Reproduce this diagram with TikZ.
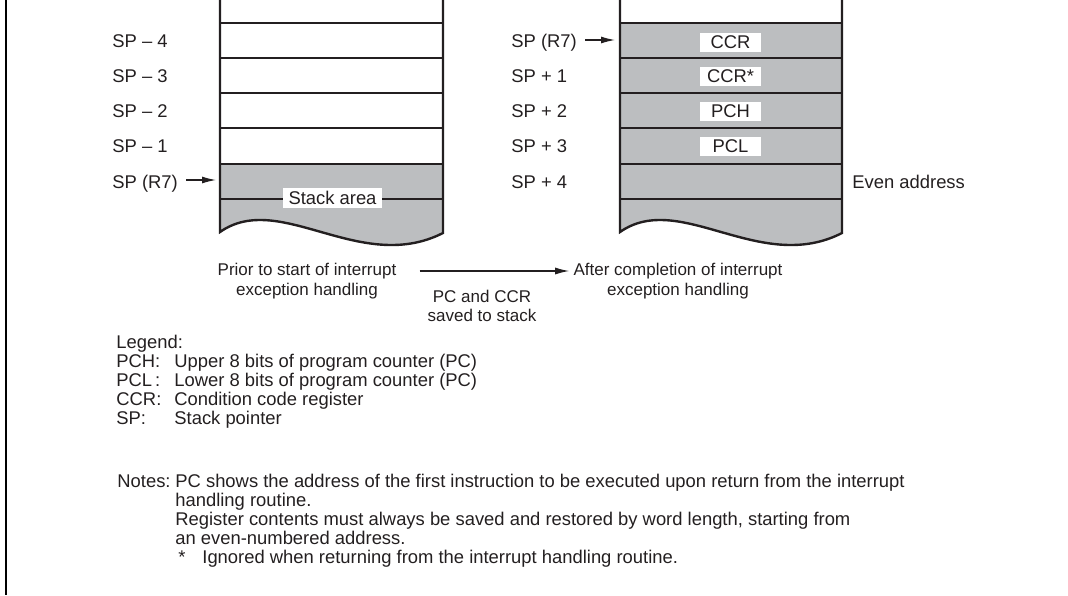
\documentclass[tikz,border=0pt]{standalone}
\usepackage{fontspec}
\setmainfont{Liberation Sans}
\usepackage{tikz}
\usetikzlibrary{arrows.meta, positioning}
\definecolor{stkgray}{RGB}{188,190,192}
\definecolor{inkdark}{RGB}{35,31,32}
\tikzset{
  lbl/.style={anchor=base west, inner sep=0pt, text=inkdark,
    font=\fontsize{9.2}{11}\selectfont},
  captext/.style={align=center, inner sep=0pt, text=inkdark,
    font=\fontsize{8.5}{9.8}\selectfont},
  cellbox/.style={fill=white, minimum width=30.5pt, minimum height=9.5pt,
    inner sep=0pt, text=inkdark, font=\fontsize{9.2}{11}\selectfont},
  ptr/.style={-{Latex[length=7pt,width=3.5pt]}, line width=0.6pt, color=inkdark},
  rowline/.style={line width=0.8pt, color=inkdark},
  stackedge/.style={line width=1.2pt, color=inkdark}
}

\begin{document}
\begin{tikzpicture}[x=0.5pt, y=-0.5pt]
  \useasboundingbox (0,0) rectangle (1068,595);

  % Frame
  \draw[line width=1.3pt, color=black] (6,0) -- (6,595);

  % Stack before
  \fill[white] (220,0) rectangle (443,164);
  \fill[stkgray] (220,164) -- (443,164) -- (443,233)
    .. controls (360,275) and (280,190) .. (220,232) -- cycle;
  \draw[rowline] (220,23) -- (443,23) (220,58) -- (443,58)
    (220,93) -- (443,93) (220,128) -- (443,128)
    (220,164) -- (443,164) (220,199) -- (443,199);
  \draw[stackedge] (220,0) -- (220,232)
    .. controls (280,190) and (360,275) .. (443,233) -- (443,0);
  \node[cellbox, minimum width=49.2pt, minimum height=10pt] (stkarea) at (332.5,198.3) {Stack area};

  % Stack after
  \fill[white] (620,0) rectangle (842,23);
  \fill[stkgray] (620,23) -- (842,23) -- (842,233)
    .. controls (760,275) and (680,190) .. (620,232) -- cycle;
  \draw[rowline] (620,23) -- (842,23) (620,58) -- (842,58)
    (620,93) -- (842,93) (620,128) -- (842,128)
    (620,164) -- (842,164) (620,199) -- (842,199);
  \draw[stackedge] (620,0) -- (620,232)
    .. controls (680,190) and (760,275) .. (842,233) -- (842,0);
  \node[cellbox] (ccr) at (730.5,42.5) {CCR};
  \node[cellbox] (ccrx) at (730.5,76) {CCR*};
  \node[cellbox] (pch) at (730.5,111) {PCH};
  \node[cellbox] (pcl) at (730.5,146) {PCL};

  % Address labels
  \node[lbl] (lm4) at (112,47) {SP -- 4};
  \node[lbl] (lm3) at (112,82) {SP -- 3};
  \node[lbl] (lm2) at (112,117) {SP -- 2};
  \node[lbl] (lm1) at (112,152) {SP -- 1};
  \node[lbl] (lsp7) at (112,188) {SP (R7)};
  \node[lbl] (rsp7) at (511,47) {SP (R7)};
  \node[lbl] (rp1) at (511,82) {SP + 1};
  \node[lbl] (rp2) at (511,117) {SP + 2};
  \node[lbl] (rp3) at (511,152) {SP + 3};
  \node[lbl] (rp4) at (511,188) {SP + 4};
  \node[lbl] (even) at (852,188) {Even address};

  % Stack pointer arrows
  \coordinate (lspend) at (216,180);
  \coordinate (rspend) at (615,40);
  \draw[ptr, shorten <=4pt] (lsp7.east |- lspend) -- (lspend);
  \draw[ptr, shorten <=4pt] (rsp7.east |- rspend) -- (rspend);

  % Captions
  \node[captext] (prior) at (307,281) {Prior to start of interrupt\\exception handling};
  \node[captext] (after) at (678,281) {After completion of interrupt\\exception handling};
  \node[captext] (saved) at (482,306) {PC and CCR\\saved to stack};
  \draw[ptr, shorten <=11.5pt, shorten >=2pt] ([yshift=5pt]prior.east) -- ([yshift=5pt]after.west);

  % Legend
  \node[lbl] (legend) at (116,348) {Legend:};
  \node[lbl] (kpch) at (116,367) {PCH:};
  \node[lbl] (kpcl) at (116,386) {PCL\,:};
  \node[lbl] (kccr) at (116,405) {CCR:};
  \node[lbl] (ksp) at (116,424) {SP:};
  \node[lbl] (dpch) at (174,367) {Upper 8 bits of program counter (PC)};
  \node[lbl] (dpcl) at (174,386) {Lower 8 bits of program counter (PC)};
  \node[lbl] (dccr) at (174,405) {Condition code register};
  \node[lbl] (dsp) at (174,424) {Stack pointer};

  % Notes
  \node[lbl] (notes) at (117,487) {Notes:};
  \node[lbl] (note1) at (175,487) {PC shows the address of the first instruction to be executed upon return from the interrupt};
  \node[lbl] (note1b) at (175,506) {handling routine.};
  \node[lbl] (note2) at (175,525) {Register contents must always be saved and restored by word length, starting from};
  \node[lbl] (note2b) at (175,544) {an even-numbered address.};
  \node[lbl] (star) at (178,563) {*};
  \node[lbl] (note3) at (202,563) {Ignored when returning from the interrupt handling routine.};
\end{tikzpicture}
\end{document}
